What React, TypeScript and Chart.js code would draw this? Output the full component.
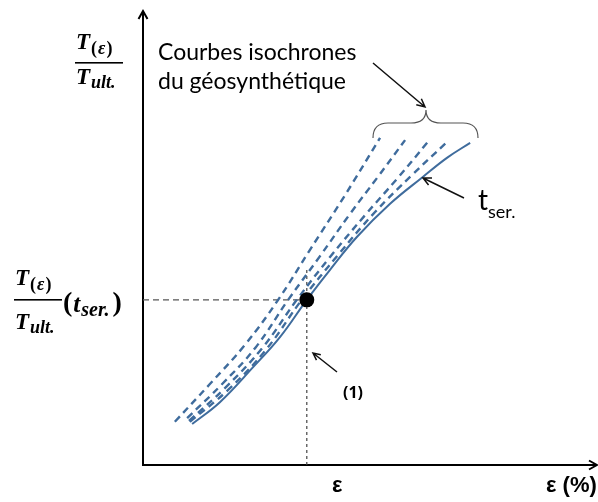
import React, { useEffect, useRef } from "react";
import { Chart, registerables } from "chart.js";

Chart.register(...registerables);

// strain ε (%) vs normalised tension T(ε)/Tult (schematic isochronous curves)
const serStrain = [1.08, 1.69, 2.42, 3.01, 3.60, 4.11, 4.70, 5.43, 6.15, 6.68, 7.19];
const serRatio = [0.090, 0.138, 0.215, 0.281, 0.363, 0.429, 0.501, 0.574, 0.633, 0.675, 0.708];
const iso1Strain = [0.70, 1.47, 2.24, 2.97, 3.67, 4.44, 5.21];
const iso1Ratio = [0.095, 0.178, 0.264, 0.363, 0.473, 0.593, 0.719];
const iso2Strain = [0.97, 1.74, 2.48, 3.19, 3.89, 4.55, 5.16, 5.76];
const iso2Ratio = [0.103, 0.178, 0.259, 0.363, 0.459, 0.552, 0.633, 0.714];
const iso3Strain = [1.01, 1.80, 2.62, 3.38, 4.11, 4.88, 5.60, 6.26];
const iso3Ratio = [0.097, 0.169, 0.257, 0.363, 0.457, 0.549, 0.631, 0.710];
const iso4Strain = [1.03, 1.87, 2.70, 3.49, 4.29, 5.10, 5.91, 6.66];
const iso4Ratio = [0.095, 0.165, 0.253, 0.363, 0.462, 0.556, 0.637, 0.708];
const serviceStrain = [3.60];
const serviceRatio = [0.363];
const guideTopRatio = 0.429;
const axisMaxStrain = 10;
const axisMaxRatio = 1;

const labelsTop = ["Courbes isochrones", "du géosynthétique"];
const labelSer = ["t", "ser."];
const labelPoint = "(1)";
const labelEps = "ε";
const labelAxisX = "ε (%)";

const BLUE = "#3f6c9d";
const SERIF = "'Liberation Serif', 'DejaVu Serif', serif";
const SANS = "Lato, 'Open Sans', sans-serif";

const pts = (xs: number[], ys: number[]) => xs.map((x, i) => ({ x, y: ys[i] }));

function arrow(ctx: CanvasRenderingContext2D, x1: number, y1: number, x2: number, y2: number, head = 8, width = 1.5, color = "#000") {
  ctx.save();
  ctx.strokeStyle = color;
  ctx.lineWidth = width;
  ctx.beginPath();
  ctx.moveTo(x1, y1);
  ctx.lineTo(x2, y2);
  const a = Math.atan2(y2 - y1, x2 - x1);
  ctx.moveTo(x2 - head * Math.cos(a - 0.45), y2 - head * Math.sin(a - 0.45));
  ctx.lineTo(x2, y2);
  ctx.lineTo(x2 - head * Math.cos(a + 0.45), y2 - head * Math.sin(a + 0.45));
  ctx.stroke();
  ctx.restore();
}

// draws a sequence of [text, font, dy, extraGap] pieces, returns end x
function run(ctx: CanvasRenderingContext2D, x: number, y: number, parts: [string, string, number, number?][]) {
  let cx = x;
  for (const [t, f, dy, gap] of parts) {
    ctx.font = f;
    ctx.fillText(t, cx, y + dy);
    cx += ctx.measureText(t).width + (gap || 0);
  }
  return cx;
}

const TB = `bold italic 23px ${SERIF}`;
const SB = `bold italic 18px ${SERIF}`;
const SU = `bold 18px ${SERIF}`;

function fraction(ctx: CanvasRenderingContext2D, x: number, barY: number, barW: number, up: number, down: number) {
  run(ctx, x, barY - up, [["T", TB, 0, 1], ["(", SU, 5, 1], ["ε", SB, 5, 1], [")", SU, 5]]);
  ctx.fillRect(x - 1, barY - 1, barW, 1.6);
  run(ctx, x, barY + down, [["T", TB, 0, 1], ["ult.", SB, 4]]);
}

const decor = {
  id: "decor",
  beforeDatasetsDraw(chart: any) {
    const { ctx, chartArea } = chart;
    const { left, right, top, bottom } = chartArea;
    ctx.save();
    ctx.strokeStyle = "#000";
    ctx.lineWidth = 2;
    ctx.beginPath();
    ctx.moveTo(left, bottom);
    ctx.lineTo(left, top + 1);
    ctx.moveTo(left - 1, bottom);
    ctx.lineTo(right - 1, bottom);
    ctx.stroke();
    ctx.beginPath();
    ctx.moveTo(left - 4.5, top + 9);
    ctx.lineTo(left, top + 1);
    ctx.lineTo(left + 4.5, top + 9);
    ctx.moveTo(right - 9, bottom - 4.5);
    ctx.lineTo(right - 1, bottom);
    ctx.lineTo(right - 9, bottom + 4.5);
    ctx.stroke();
    ctx.restore();
  },
  afterDatasetsDraw(chart: any) {
    const { ctx } = chart;
    ctx.save();
    ctx.fillStyle = "#000";
    ctx.textBaseline = "alphabetic";
    ctx.textAlign = "left";

    fraction(ctx, 76, 63, 48, 14, 21);
    fraction(ctx, 15, 300, 48, 15, 29);
    run(ctx, 63, 311, [
      ["(", `bold 28px ${SERIF}`, 0, 1],
      ["t", `bold italic 25px ${SERIF}`, 1, 1],
      ["ser.", `bold italic 20px ${SERIF}`, 5, 3],
      [")", `bold 28px ${SERIF}`, 0],
    ]);

    ctx.font = `23px ${SANS}`;
    ctx.fillText(labelsTop[0], 158, 60, 202);
    ctx.fillText(labelsTop[1], 158, 89, 196);

    ctx.strokeStyle = "#555";
    ctx.lineWidth = 1.2;
    ctx.beginPath();
    ctx.moveTo(373, 138);
    ctx.quadraticCurveTo(373, 123, 388, 123);
    ctx.lineTo(411, 123);
    ctx.quadraticCurveTo(426, 123, 426, 110);
    ctx.quadraticCurveTo(426, 123, 441, 123);
    ctx.lineTo(463, 123);
    ctx.quadraticCurveTo(478, 123, 478, 138);
    ctx.stroke();
    arrow(ctx, 373, 63, 425, 107, 9, 1.5, "#111");

    ctx.fillStyle = "#000";
    run(ctx, 478, 210, [[labelSer[0], `28px ${SANS}`, 0], [labelSer[1], `18px ${SANS}`, 8]]);
    arrow(ctx, 464, 198, 423, 178, 9, 1.5, "#111");

    ctx.font = `bold 16px 'Open Sans', 'Noto Sans', sans-serif`;
    ctx.fillText(labelPoint, 343, 398);
    arrow(ctx, 337, 372, 313, 353, 8, 1.5, "#111");

    ctx.font = `bold 22px 'Liberation Sans', Arial, sans-serif`;
    ctx.fillText(labelEps, 332, 492);
    ctx.fillText(labelAxisX, 546, 492, 52);
    ctx.restore();
  },
};

export default function App() {
  const ref = useRef<HTMLCanvasElement | null>(null);
  useEffect(() => {
    if (!ref.current) return;
    const dashed = (xs: number[], ys: number[]) => ({
      data: pts(xs, ys),
      borderColor: BLUE,
      borderWidth: 2.4,
      borderDash: [7, 5],
      pointRadius: 0,
      tension: 0.4,
      fill: false,
    });
    const chart = new Chart(ref.current, {
      type: "line",
      data: {
        datasets: [
          {
            data: pts(serviceStrain, serviceRatio),
            showLine: false,
            pointRadius: 7.5,
            pointBackgroundColor: "#000",
            pointBorderColor: "#000",
            pointBorderWidth: 0,
          } as any,
          {
            data: pts(serStrain, serRatio),
            borderColor: BLUE,
            borderWidth: 2,
            pointRadius: 0,
            tension: 0.4,
            fill: false,
          },
          dashed(iso1Strain, iso1Ratio),
          dashed(iso2Strain, iso2Ratio),
          dashed(iso3Strain, iso3Ratio),
          dashed(iso4Strain, iso4Ratio),
          {
            data: [
              { x: 0, y: serviceRatio[0] },
              { x: serviceStrain[0], y: serviceRatio[0] },
            ],
            borderColor: "#555",
            borderWidth: 1.3,
            borderDash: [6, 4],
            pointRadius: 0,
          },
          {
            data: [
              { x: serviceStrain[0], y: 0 },
              { x: serviceStrain[0], y: guideTopRatio },
            ],
            borderColor: "#444",
            borderWidth: 1.2,
            borderDash: [3, 3],
            pointRadius: 0,
          },
        ],
      },
      options: {
        animation: false,
        responsive: false,
        events: [],
        layout: { autoPadding: false, padding: { left: 143, right: 0, top: 10, bottom: 37 } },
        scales: {
          x: { type: "linear", min: 0, max: axisMaxStrain, display: false },
          y: { type: "linear", min: 0, max: axisMaxRatio, display: false },
        },
        plugins: { legend: { display: false }, tooltip: { enabled: false } },
      },
      plugins: [decor],
    });
    return () => chart.destroy();
  }, []);
  return (
    <div style={{ position: "absolute", left: 0, top: 0, width: 598, height: 502, background: "#fff" }}>
      <canvas ref={ref} width={598} height={502} style={{ display: "block" }} />
    </div>
  );
}
